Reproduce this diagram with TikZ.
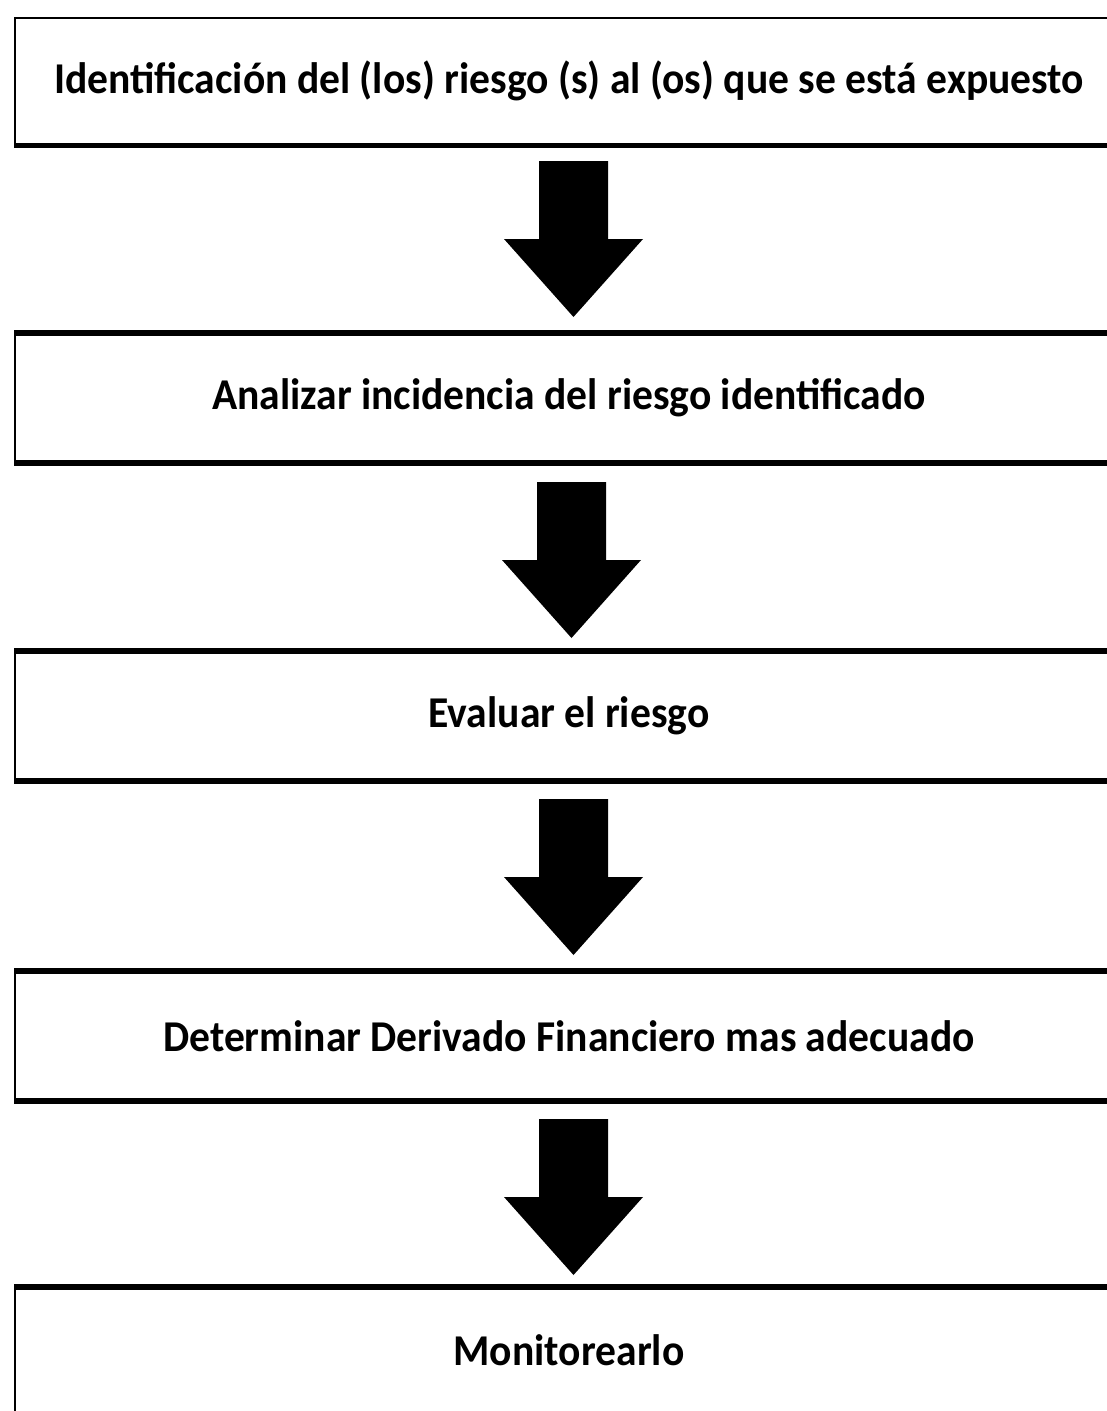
\documentclass[tikz,border=0pt]{standalone}
\usepackage{fontspec}
\setmainfont{Carlito}[FakeStretch=0.945]
\tikzset{
	stage/.style={draw, line width=2pt, anchor=north west, inner sep=0pt,
		minimum width=1108pt, minimum height=128pt,
		font=\fontsize{44}{50}\selectfont\bfseries},
	edge/.style={line width=6pt},
}
\newcommand{\blockarrow}[1]{%
	\fill (#1) ++(-34.5,0) -- ++(69,0) -- ++(0,78) -- ++(35,0)
		-- ++(-69.5,78) -- ++(-69.5,-78) -- ++(35,0) -- cycle;}
\begin{document}
\begin{tikzpicture}[x=1pt,y=-1pt]

		\useasboundingbox (0,0) rectangle (1106,1411);

		\node (b1) [stage, minimum height=127pt] at (14,16.5) {Identificación del (los) riesgo (s) al (os) que se está expuesto};
		\node (b2) [stage] at (14,333) {Analizar incidencia del riesgo identificado};
		\node (b3) [stage] at (14,651) {Evaluar el riesgo};
		\node (b4) [stage] at (14,971) {Determinar Derivado Financiero mas adecuado};
		\node (b5) [stage, minimum height=125pt] at (14,1287) {Monitorearlo};

		\draw [line width=5pt] (b1.south west) -- (b1.south east);
		\draw [edge] (b2.north west) -- (b2.north east);
		\draw [edge] (b2.south west) -- (b2.south east);
		\draw [edge] (b3.north west) -- (b3.north east);
		\draw [edge] (b3.south west) -- (b3.south east);
		\draw [edge] (b4.north west) -- (b4.north east);
		\draw [edge] (b4.south west) -- (b4.south east);
		\draw [edge] (b5.north west) -- (b5.north east);

		\coordinate (a1) at (573.5,161);
		\coordinate (a2) at (571.5,482);
		\coordinate (a3) at (573.5,799);
		\coordinate (a4) at (573.5,1119);

		\blockarrow{a1}
		\blockarrow{a2}
		\blockarrow{a3}
		\blockarrow{a4}

	\end{tikzpicture}
\end{document}
